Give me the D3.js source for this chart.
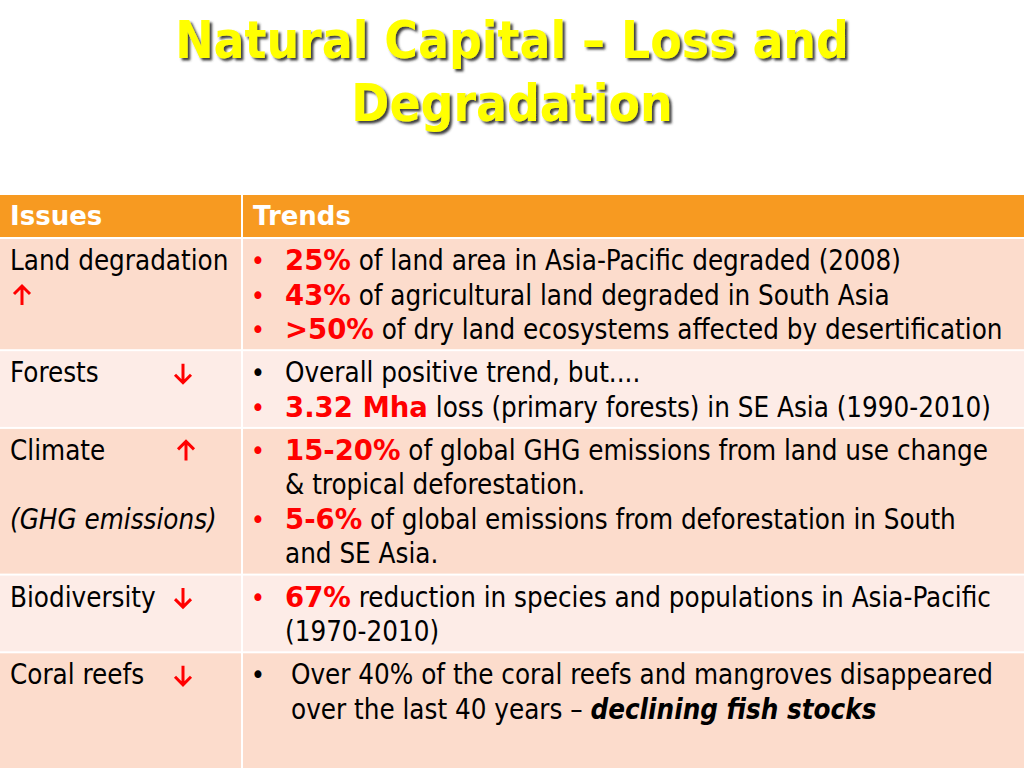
<!DOCTYPE html>
<html><head><meta charset="utf-8">
<script src="https://cdn.jsdelivr.net/npm/d3@7"></script>
<style>
html,body{margin:0;padding:0;background:#fff;}
svg{display:block;}
</style></head>
<body>
<svg id="c" width="1024" height="768"></svg>
<script>
// ---- data ----
const titleLines = ["Natural Capital \u2013 Loss and", "Degradation"];
const headers = ["Issues", "Trends"];
const issues = ["Land degradation", "Forests", "Climate", "Biodiversity", "Coral reefs"];
const issueNotes = ["", "", "(GHG emissions)", "", ""];
const noteLine = [0, 0, 2, 0, 0];
const directions = ["up", "down", "up", "down", "down"];
const arrowLine = [1, 0, 0, 0, 0];
// each trend line: [bulletColour or null, [[text, style], ...]]
const trendsLand = [
  ["red", [["25%", "rb"], [" of land area in Asia-Pacific degraded (2008)", "n"]]],
  ["red", [["43%", "rb"], [" of agricultural land degraded in South Asia", "n"]]],
  ["red", [[">50%", "rb"], [" of dry land ecosystems affected by desertification", "n"]]]
];
const trendsForests = [
  ["black", [["Overall positive trend, but....", "n"]]],
  ["red", [["3.32 Mha", "rb"], [" loss (primary forests) in SE Asia (1990-2010)", "n"]]]
];
const trendsClimate = [
  ["red", [["15-20%", "rb"], [" of global GHG emissions from land use change", "n"]]],
  [null, [["& tropical deforestation.", "n"]]],
  ["red", [["5-6%", "rb"], [" of global emissions from deforestation in South", "n"]]],
  [null, [["and SE Asia.", "n"]]]
];
const trendsBio = [
  ["red", [["67%", "rb"], [" reduction in species and populations in Asia-Pacific", "n"]]],
  [null, [["(1970-2010)", "n"]]]
];
const trendsCoral = [
  ["black", [["Over 40% of the coral reefs and mangroves disappeared", "n"]]],
  [null, [["over the last 40 years \u2013 ", "n"], ["declining fish stocks", "bi"]]]
];
const trends = [trendsLand, trendsForests, trendsClimate, trendsBio, trendsCoral];
const rowShades = ["dark", "light", "dark", "light", "dark"];
const textIndent = [0, 0, 0, 0, 6];

// ---- layout ----
const W = 1024, H = 768;
const FONT = "'DejaVu Sans Condensed', 'DejaVu Sans', sans-serif";
const BOLD_FONT = "'DejaVu Sans', sans-serif";
const fs = 27.5;
const svg = d3.select("#c");
const colours = {header: "#F79A21", dark: "#FCDCCC", light: "#FDECE7", red: "#FF0000"};

// title with drop shadow
const defs = svg.append("defs");
defs.append("filter").attr("id", "shadow").attr("x", "-5%").attr("y", "-20%")
  .attr("width", "115%").attr("height", "150%")
  .append("feDropShadow").attr("dx", 2.5).attr("dy", 2.5).attr("stdDeviation", 0.8)
  .attr("flood-color", "#333").attr("flood-opacity", 0.95);

const tg = svg.append("g").attr("font-family", "'DejaVu Sans Condensed', 'DejaVu Sans', sans-serif")
  .attr("font-weight", "bold").attr("font-size", 51).attr("text-anchor", "middle");
const titleY = d3.scaleLinear().domain([0, 1]).range([58, 121]);
titleLines.forEach((t, i) => {
  tg.append("text").attr("x", W / 2).attr("y", titleY(i)).attr("fill", "#FFFF00")
    .attr("filter", "url(#shadow)").text(t);
});

// table geometry via scales
const x = d3.scaleOrdinal().domain(["Issues", "Trends"]).range([0, 243]);
const colW = {Issues: 241, Trends: W - 243};
const headTop = 195, headH = 42, bodyTop = 239, lineH = 34.5, rowPad = 8.7;
const lineCounts = trends.map(t => t.length);
const cum = d3.cumsum([0].concat(lineCounts));
const rowTop = i => bodyTop + cum[i] * lineH + i * rowPad;
const rowBottom = i => i === trends.length - 1 ? H : rowTop(i + 1) - 2;
const lineBase = (i, k) => rowTop(i) + 31 + k * lineH;

// header
headers.forEach(h => {
  svg.append("rect").attr("x", x(h)).attr("y", headTop).attr("width", colW[h]).attr("height", headH)
    .attr("fill", colours.header);
  svg.append("text").attr("x", x(h) + 10).attr("y", headTop + 30).attr("font-family", BOLD_FONT)
    .attr("font-weight", "bold").attr("font-size", 26).attr("fill", "#fff").text(h);
});

// arrow glyph built with d3.path around a centre point
function arrowPath(cx, cy, dir) {
  const p = d3.path(), s = dir === "up" ? -1 : 1, half = 9.5, head = 8;
  p.moveTo(cx, cy - s * half); p.lineTo(cx, cy + s * half);
  p.moveTo(cx - head, cy + s * (half - head)); p.lineTo(cx, cy + s * half);
  p.lineTo(cx + head, cy + s * (half - head));
  return p.toString();
}

// rows
issues.forEach((iss, i) => {
  headers.forEach(h => {
    svg.append("rect").attr("x", x(h)).attr("y", rowTop(i)).attr("width", colW[h])
      .attr("height", rowBottom(i) - rowTop(i)).attr("fill", colours[rowShades[i]]);
  });
  const g = svg.append("g").attr("font-family", FONT).attr("font-size", fs);
  g.append("text").attr("x", 10).attr("y", lineBase(i, 0)).attr("fill", "#000").text(iss);
  if (issueNotes[i]) {
    g.append("text").attr("x", 10).attr("y", lineBase(i, noteLine[i])).attr("font-style", "italic")
      .attr("fill", "#000").text(issueNotes[i]);
  }
  const ax = arrowLine[i] === 1 ? 22 : (directions[i] === "up" ? 186 : 183);
  g.append("path").attr("d", arrowPath(ax, lineBase(i, arrowLine[i]) - 9, directions[i]))
    .attr("fill", "none").attr("stroke", colours.red).attr("stroke-width", 3)
    .attr("stroke-linecap", "butt").attr("stroke-linejoin", "miter");

  trends[i].forEach((ln, k) => {
    const y = lineBase(i, k);
    if (ln[0]) {
      g.append("text").attr("x", 258).attr("y", y).attr("text-anchor", "middle")
        .attr("font-size", 27)
        .attr("fill", ln[0] === "red" ? colours.red : "#000").text("\u2022");
    }
    const t = g.append("text").attr("x", 285 + textIndent[i]).attr("y", y).attr("fill", "#000");
    ln[1].forEach(seg => {
      const s = t.append("tspan").text(seg[0]);
      if (seg[1] === "rb") s.attr("fill", colours.red).attr("font-weight", "bold").attr("font-family", BOLD_FONT);
      if (seg[1] === "bi") s.attr("font-weight", "bold").attr("font-style", "italic");
    });
  });
});
</script>
</body></html>
